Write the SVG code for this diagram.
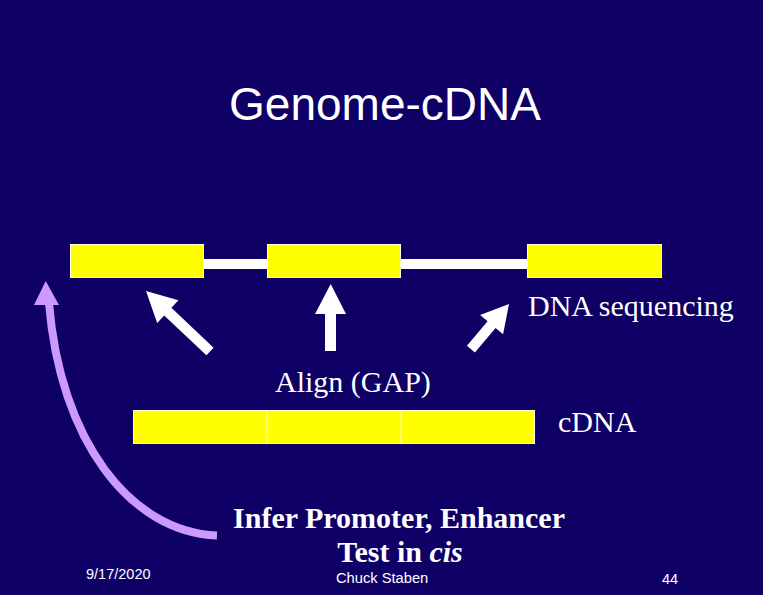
<svg xmlns="http://www.w3.org/2000/svg" width="763" height="595" viewBox="0 0 763 595">
<style>
.bg{fill:#0F0066}
.exon{fill:#FFFF00;stroke:#FFFFD8;stroke-width:1}
.intron{fill:#FFFFFF}
.sep{stroke:#FFFFD0;stroke-width:1}
.serif{font-family:"Liberation Serif","Times New Roman",serif;fill:#FFFFFF}
.sans{font-family:"Liberation Sans",Arial,sans-serif;fill:#FFFFFF}
.warrow{fill:#FFFFFF}
.parc{fill:none;stroke:#CC99FF;stroke-width:8}
.phead{fill:#CC99FF}
</style>
<rect class="bg" x="0" y="0" width="763" height="595"/>
<text class="sans" x="385" y="120" font-size="46" text-anchor="middle">Genome-cDNA</text>
<g id="genome">
<rect class="intron" x="203" y="259" width="324" height="10"/>
<g id="exon1"><rect class="exon" x="70.5" y="244.5" width="133" height="33"/></g>
<g id="exon2"><rect class="exon" x="267.5" y="244.5" width="133" height="33"/></g>
<g id="exon3"><rect class="exon" x="527.5" y="244.5" width="134" height="33"/></g>
</g>
<g id="cdna">
<rect class="exon" x="133.5" y="410.5" width="401" height="33"/>
<line class="sep" x1="267" y1="411" x2="267" y2="443"/>
<line class="sep" x1="401" y1="411" x2="401" y2="443"/>
</g>
<g id="connectors">
<path class="warrow" d="M146,291 L178.5,300.3 L171.4,307.8 L213.6,347.7 L206.4,355.3 L164.2,315.4 L157.2,322.9 Z"/>
<path class="warrow" d="M330.7,284 L346,314 L336,314 L336,351 L325,351 L325,314 L315,314 Z"/>
<path class="warrow" d="M509,304 L503.1,334.3 L495.6,328 L474.9,352.5 L466.9,345.7 L487.6,321.2 L480.1,314.9 Z"/>
<path class="parc" d="M217,535.5 C130,532 60,440 49,303"/>
<path class="phead" d="M45.7,281 L59,305 L34,305 Z"/>
</g>
<g id="labels">
<text class="serif" x="528" y="316" font-size="30">DNA sequencing</text>
<text class="serif" x="275" y="392" font-size="30">Align (GAP)</text>
<text class="serif" x="558" y="432" font-size="30">cDNA</text>
<text class="serif" x="399" y="528" font-size="30" font-weight="bold" text-anchor="middle">Infer Promoter, Enhancer</text>
<text class="serif" x="400" y="562" font-size="30" font-weight="bold" text-anchor="middle">Test in <tspan font-style="italic">cis</tspan></text>
</g>
<g id="footer">
<text class="sans" x="86" y="579" font-size="14.5">9/17/2020</text>
<text class="sans" x="336" y="583" font-size="14.7">Chuck Staben</text>
<text class="sans" x="662" y="584" font-size="14.5">44</text>
</g>
</svg>
